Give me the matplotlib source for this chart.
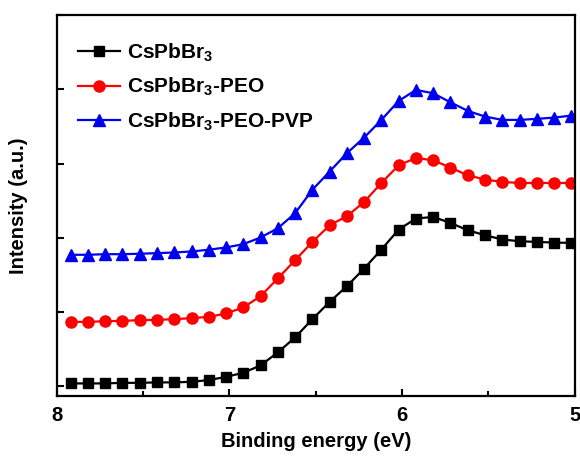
import numpy as np
import matplotlib
matplotlib.use("Agg")
import matplotlib.pyplot as plt
from matplotlib.ticker import MultipleLocator

plt.rcParams['font.family'] = ['Liberation Sans', 'DejaVu Sans']
plt.rcParams['font.weight'] = 'bold'
plt.rcParams['mathtext.fontset'] = 'custom'
plt.rcParams['mathtext.bf'] = 'Liberation Sans:bold'
plt.rcParams['mathtext.rm'] = 'Liberation Sans:bold'
plt.rcParams['mathtext.default'] = 'bf'

# --- data
energy = [7.92, 7.82, 7.72, 7.62, 7.52, 7.42, 7.32, 7.22, 7.12, 7.02,
          6.92, 6.82, 6.72, 6.62, 6.52, 6.42, 6.32, 6.22, 6.12, 6.02,
          5.92, 5.82, 5.72, 5.62, 5.52, 5.42, 5.32, 5.22, 5.12, 5.02]

cspbbr3 = [0.036, 0.036, 0.036, 0.044, 0.044, 0.050, 0.050, 0.058, 0.081, 0.125,
           0.179, 0.279, 0.454, 0.656, 0.902, 1.135, 1.347, 1.585, 1.841, 2.110,
           2.259, 2.280, 2.199, 2.101, 2.034, 1.976, 1.953, 1.943, 1.935, 1.930]

cspbbr3_peo = [0.866, 0.866, 0.875, 0.879, 0.889, 0.893, 0.902, 0.916, 0.933, 0.979,
               1.060, 1.212, 1.451, 1.697, 1.943, 2.168, 2.290, 2.482, 2.738, 2.976,
               3.075, 3.044, 2.945, 2.842, 2.784, 2.752, 2.738, 2.738, 2.738, 2.738]

cspbbr3_peo_pvp = [1.770, 1.770, 1.778, 1.778, 1.784, 1.792, 1.801, 1.815, 1.838, 1.869,
                   1.913, 2.003, 2.128, 2.330, 2.646, 2.892, 3.139, 3.350, 3.588, 3.844,
                   3.992, 3.947, 3.825, 3.710, 3.633, 3.588, 3.588, 3.602, 3.619, 3.646]

labels = ['CsPbBr$_3$', 'CsPbBr$_3$-PEO', 'CsPbBr$_3$-PEO-PVP']

fig = plt.figure(figsize=(5.8, 4.59), dpi=100)
ax = fig.add_axes([0.098, 0.137, 0.893, 0.830])

ax.plot(energy, cspbbr3, color='black', marker='s', ms=7, lw=1.6, label=labels[0])
ax.plot(energy, cspbbr3_peo, color='#ff0000', marker='o', ms=8, lw=1.6, label=labels[1])
ax.plot(energy, cspbbr3_peo_pvp, color='#0000ee', marker='^', ms=8.5, lw=1.6, label=labels[2])

ax.set_xlim(8, 5)
ax.set_ylim(-0.135, 5.0)
ax.xaxis.set_major_locator(MultipleLocator(1))
ax.xaxis.set_minor_locator(MultipleLocator(0.5))
ax.yaxis.set_major_locator(MultipleLocator(1))
ax.tick_params(axis='both', which='both', direction='in', top=False, right=False)
ax.tick_params(axis='x', which='major', length=5, width=1.5, labelsize=14.5, pad=7)
ax.tick_params(axis='x', which='minor', length=3.5, width=1.5)
ax.tick_params(axis='y', which='major', length=5, width=1.5, labelleft=False)
for sp in ax.spines.values():
    sp.set_linewidth(1.6)

ax.set_xlabel('Binding energy (eV)', fontsize=14.5, fontweight='bold', labelpad=5)
ax.set_ylabel('Intensity (a.u.)', fontsize=14.5, fontweight='bold')
ax.yaxis.set_label_coords(-0.055, 0.5)

ax.legend(loc='upper left', frameon=False, fontsize=15, handlelength=2.0,
          handletextpad=0.35, labelspacing=0.58, borderaxespad=0.0,
          bbox_to_anchor=(0.025, 0.952))

fig.savefig('out.png', dpi=100)
